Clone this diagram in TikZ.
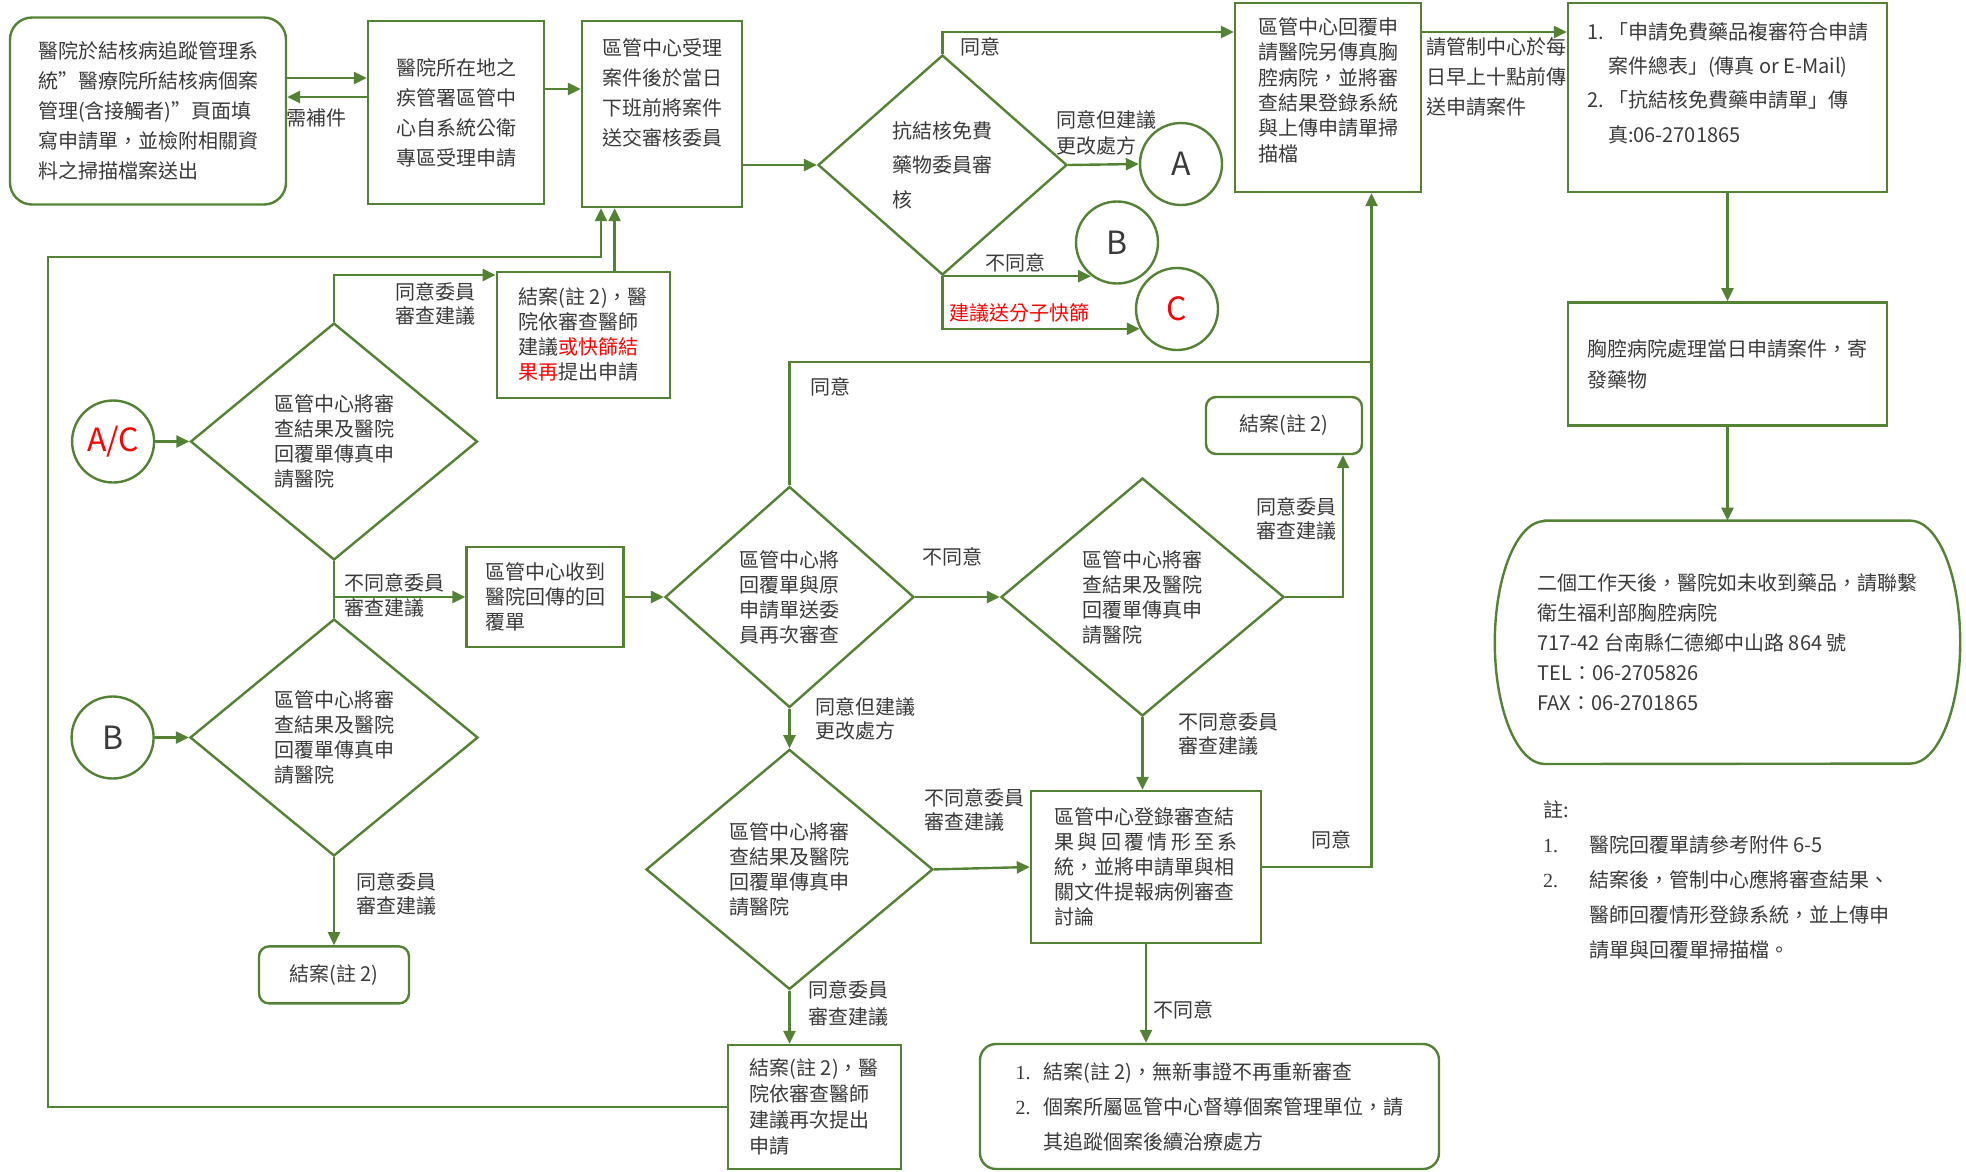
\documentclass[tikz,border=0pt]{standalone}
\usepackage{fontspec}
\setmainfont{Noto Sans CJK TC}[Script=CJK, Language=Chinese Traditional]
\newfontfamily\numfont{Liberation Serif}
\usetikzlibrary{shapes.geometric,arrows.meta,positioning}
\definecolor{cdcgreen}{HTML}{548235}
\definecolor{txtgray}{HTML}{3A3A3A}
\definecolor{alertred}{HTML}{FF0000}

\begin{document}
\begin{tikzpicture}[x=1pt, y=-1pt, node distance=40pt,
    every node/.style={text=txtgray, font=\fontsize{20}{25}\selectfont},
    box/.style={draw=cdcgreen, line width=2.4pt, align=left, inner sep=0pt},
    rbox/.style={box, rounded corners=#1}, rbox/.default=10pt,
    dia/.style={draw=cdcgreen, line width=2.4pt, diamond, shape aspect=1.2, align=left, inner sep=0pt},
    conn/.style={draw=cdcgreen, line width=2.4pt, circle, minimum size=82pt, inner sep=0pt, font=\fontsize{32}{32}\selectfont},
    wire/.style={draw=cdcgreen, line width=2.4pt},
    flow/.style={wire, -{Triangle[length=13pt,width=12pt]}},
    lbl/.style={anchor=north west, align=left, inner sep=0pt, font=\fontsize{20}{24}\selectfont}]
        \useasboundingbox (0,0) rectangle (1966,1171);

        % top row
        \node[rbox=22pt, minimum width=276pt, minimum height=187pt, font=\fontsize{20}{30}\selectfont] (hosp) at (148,111) {醫院於結核病追蹤管理系\\統”醫療院所結核病個案\\管理(含接觸者)”頁面填\\寫申請單，並檢附相關資\\料之掃描檔案送出};
        \node[box, minimum width=176pt, minimum height=183pt, font=\fontsize{20}{30}\selectfont] (cdc) at (456,112.5) {醫院所在地之\\疾管署區管中\\心自系統公衛\\專區受理申請};
        \node[box, minimum width=160pt, minimum height=186pt, font=\fontsize{20}{30}\selectfont] (accept) at (662,114) {區管中心受理\\案件後於當日\\下班前將案件\\送交審核委員\\[14pt]\mbox{}};
        \node[dia, minimum width=249pt, minimum height=220pt, font=\fontsize{20}{34.5}\selectfont] (review) at (942.5,165) {抗結核免費\\藥物委員審\\核};
        \node[conn] (cA) at (1181,164) {A};
        \node[conn] (cB) at (1117,242.5) {B};
        \node[conn, text=alertred] (cC) at (1177,309) {C};
        \node[box, minimum width=186pt, minimum height=189pt, font=\fontsize{20}{25.4}\selectfont] (reply) at (1328,97.5) {區管中心回覆申\\請醫院另傳真胸\\腔病院，並將審\\查結果登錄系統\\與上傳申請單掃\\描檔\\[-9pt]\mbox{}};
        \node[box, minimum width=319pt, minimum height=189pt, font=\fontsize{20}{34.3}\selectfont] (fax) at (1727.5,97.5) {\makebox[21pt][l]{1.}「申請免費藥品複審符合申請\\\hspace*{21pt}案件總表」(傳真 or E-Mail)\\\makebox[21pt][l]{2.}「抗結核免費藥申請單」傳\\\hspace*{21pt}真:06-2701865\\[-4pt]\mbox{}};
        \node[box, below=108pt of fax, minimum width=319pt, minimum height=123pt, font=\fontsize{20}{31}\selectfont] (ship) {胸腔病院處理當日申請案件，寄\\發藥物};
        \node[below=94pt of ship, minimum width=465pt, minimum height=243pt, align=left, inner sep=0pt, font=\fontsize{20}{30}\selectfont] (post) {二個工作天後，醫院如未收到藥品，請聯繫\\衛生福利部胸腔病院\\717-42 台南縣仁德鄉中山路 864 號\\TEL：06-2705826\\FAX：06-2701865};
        \draw[wire] ([xshift=50pt]post.north west) -- ([xshift=-50pt]post.north east)
            arc[start angle=90, end angle=-90, x radius=50pt, y radius=121.5pt]
            -- ([xshift=50pt]post.south west)
            arc[start angle=270, end angle=90, x radius=50pt, y radius=121.5pt] -- cycle;
        \node[lbl, font=\fontsize{20}{35}\selectfont] (notes) at (1543,801) {註:\\\makebox[46pt][l]{\numfont 1.}醫院回覆單請參考附件 6-5\\\makebox[46pt][l]{\numfont 2.}結案後，管制中心應將審查結果、\\\hspace*{46pt}醫師回覆情形登錄系統，並上傳申\\\hspace*{46pt}請單與回覆單掃描檔。};

        % left column
        \node[box, minimum width=173pt, minimum height=126pt] (closeA) at (583.3,334.7) {結案(註 2)，醫\\院依審查醫師\\建議\textcolor{alertred}{或快篩結}\\\textcolor{alertred}{果再}提出申請};
        \node[dia, minimum width=287pt, minimum height=237pt] (dAC) at (334,441.5) {區管中心將審\\查結果及醫院\\回覆單傳真申\\請醫院};
        \node[conn, text=alertred, left=34pt of dAC] (cAC) {A/C};
        \node[box, minimum width=157pt, minimum height=100pt] (recv) at (545,597) {區管中心收到\\醫院回傳的回\\覆單};
        \node[dia, minimum width=288pt, minimum height=237pt] (dB) at (334,737.5) {區管中心將審\\查結果及醫院\\回覆單傳真申\\請醫院};
        \node[conn, left=34pt of dB] (cB2) {B};
        \node[rbox, below=88pt of dB, minimum width=150pt, minimum height=57pt] (endB) {結案(註 2)};

        % middle
        \node[dia, minimum width=249pt, minimum height=221pt] (reexam) at (789.5,597) {區管中心將\\回覆單與原\\申請單送委\\員再次審查};
        \node[dia, minimum width=283pt, minimum height=238pt] (dagain) at (1142.5,597) {區管中心將審\\查結果及醫院\\回覆單傳真申\\請醫院};
        \node[rbox, minimum width=156pt, minimum height=57pt] (closeC) at (1284,425.5) {結案(註 2)};
        \node[dia, below=39.5pt of reexam, minimum width=287pt, minimum height=240pt] (dmod) {區管中心將審\\查結果及醫院\\回覆單傳真申\\請醫院};
        \node[box, minimum width=230pt, minimum height=152pt] (register) at (1146,867) {區管中心登錄審查結\\果\,與\,回\,覆\,情\,形\,至\,系\\統，並將申請單與相\\關文件提報病例審查\\討論};
        \node[rbox=16pt, minimum width=459pt, minimum height=125pt, font=\fontsize{20}{35}\selectfont] (final) at (1209.5,1106.5) {\makebox[28pt][l]{\numfont 1.}結案(註 2)，無新事證不再重新審查\\\makebox[28pt][l]{\numfont 2.}個案所屬區管中心督導個案管理單位，請\\\hspace*{28pt}其追蹤個案後續治療處方};
        \node[box, minimum width=173pt, minimum height=124pt, font=\fontsize{20}{25.7}\selectfont] (closeB) at (814.3,1107) {結案(註 2)，醫\\院依審查醫師\\建議再次提出\\申請};
        \coordinate (up) at ([xshift=43.5pt]reply.south);

        % connectors
        \draw[flow] (hosp.east |- 0,78) -- (cdc.west |- 0,78);
        \draw[flow] (cdc.west |- 0,97) -- (hosp.east |- 0,97);
        \draw[flow] (cdc.east |- 0,89) -- (accept.west |- 0,89);
        \draw[flow] (accept.east |- review.west) -- (review.west);
        \draw[flow] (review.north) |- (reply.west |- 0,32);
        \draw[flow] (review.east) -- (cA.west);
        \draw[flow] (review.south) -- (review.south -| cB.232);
        \draw[flow] (review.south) |- (cC.208);
        \draw[flow] (reply.east |- 0,32) -- (fax.west |- 0,32);
        \draw[flow] (fax.south) -- (ship.north);
        \draw[flow] (ship.south) -- (post.north);
        \draw[flow] (closeB.west) -| (48,257) -| ([xshift=-61pt]accept.south);
        \draw[flow] ([xshift=31.3pt]closeA.north) -- ([xshift=31.3pt]closeA.north |- accept.south);
        \draw[flow] (dAC.north) |- (closeA.west |- 0,275);
        \draw[flow] (cAC.east) -- (dAC.west);
        \draw[wire] (dAC.south) -- (dB.north);
        \draw[flow] (dAC.south |- recv.west) -- (recv.west);
        \draw[flow] (cB2.east) -- (dB.west);
        \draw[flow] (dB.south) -- (dB.south |- endB.north);
        \draw[flow] (recv.east) -- (reexam.west);
        \draw[wire] (reexam.north) |- (up |- 0,362);
        \draw[flow] (register.east) -| (up);
        \draw[flow] (reexam.east) -- (dagain.west);
        \draw[flow] (dagain.east) -| ([xshift=59pt]closeC.south);
        \draw[flow] (dagain.south) -- (dagain.south |- register.north);
        \draw[flow] (reexam.south) -- (dmod.north);
        \draw[flow] (dmod.east) -- (register.west);
        \draw[flow] (register.south) -- (register.south |- final.north);
        \draw[flow] (dmod.south) -- (dmod.south |- closeB.north);

        % branch labels
        \node[lbl] (l1) at (286,108) {需補件};
        \node[lbl] (l2) at (960,37) {同意};
        \node[lbl, font=\fontsize{20}{26}\selectfont] (l3) at (1056,110) {同意但建議\\更改處方};
        \node[lbl] (l4) at (985,253) {不同意};
        \node[lbl, text=alertred] (l5) at (949,303) {建議送分子快篩};
        \node[lbl, font=\fontsize{20}{30}\selectfont] (l6) at (1426,37) {請管制中心於每\\日早上十點前傳\\送申請案件};
        \node[lbl] (l7) at (395,282) {同意委員\\審查建議};
        \node[lbl, font=\fontsize{20}{25}\selectfont] (l8) at (344,573) {不同意委員\\審查建議};
        \node[lbl] (l9) at (356,872) {同意委員\\審查建議};
        \node[lbl] (l10) at (810,377) {同意};
        \node[lbl] (l11) at (922,547) {不同意};
        \node[lbl] (l12) at (1256,497) {同意委員\\審查建議};
        \node[lbl] (l13) at (1178,712) {不同意委員\\審查建議};
        \node[lbl] (l14) at (815,697) {同意但建議\\更改處方};
        \node[lbl] (l15) at (924,788) {不同意委員\\審查建議};
        \node[lbl] (l16) at (1311,830) {同意};
        \node[lbl] (l17) at (1153,1000) {不同意};
        \node[lbl, font=\fontsize{20}{27}\selectfont] (l18) at (808,980) {同意委員\\審查建議};
      \end{tikzpicture}
\end{document}
